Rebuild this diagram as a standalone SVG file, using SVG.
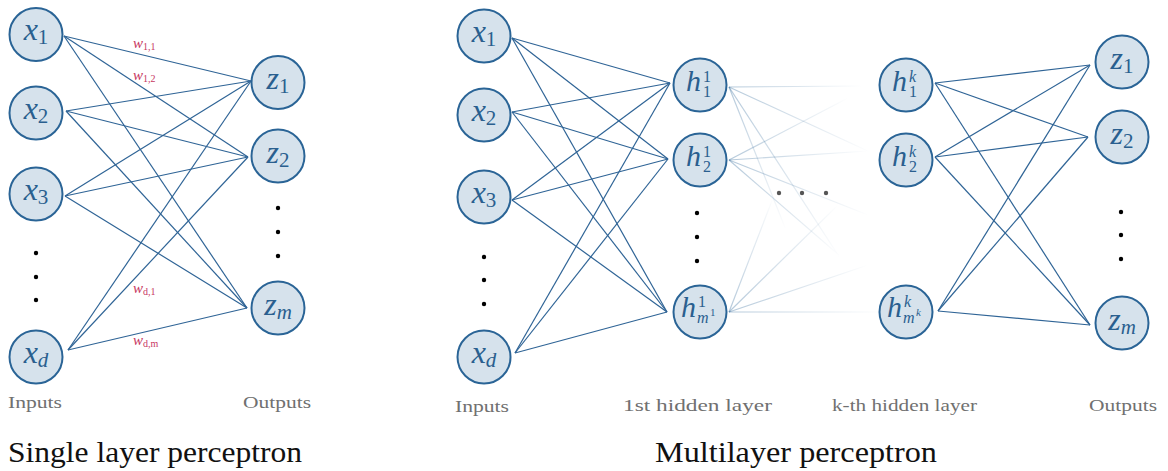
<svg xmlns="http://www.w3.org/2000/svg" width="1168" height="471" viewBox="0 0 1168 471">
<style>
text{font-family:"Liberation Serif","DejaVu Serif","Noto Serif",serif}
.node{fill:#d6e2ec;stroke:#2a6496;stroke-width:2}
.conn line{stroke:#2f6496;stroke-width:1.2}
.lab{fill:#2a5f8f;font-size:32px}
.it{font-style:italic}
.sub{font-size:21px}
.ss{font-size:16px}
.sss{font-size:11px}
.w{fill:#c7375f;font-size:15px;font-style:italic}
.wsub{font-size:10px;font-style:normal}
.cap{fill:#707070;font-size:17px}
.title{fill:#111;font-size:30px}
.dot{fill:#000}
.gdot{fill:#555}
</style>
<defs>
<linearGradient id="f1" gradientUnits="userSpaceOnUse" x1="729" y1="87" x2="862" y2="86"><stop offset="0" stop-color="#2a6496" stop-opacity="0.35"/><stop offset="1" stop-color="#2a6496" stop-opacity="0"/></linearGradient>
<linearGradient id="f2" gradientUnits="userSpaceOnUse" x1="729" y1="87" x2="870" y2="152"><stop offset="0" stop-color="#2a6496" stop-opacity="0.35"/><stop offset="1" stop-color="#2a6496" stop-opacity="0"/></linearGradient>
<linearGradient id="f3" gradientUnits="userSpaceOnUse" x1="729" y1="87" x2="786" y2="230"><stop offset="0" stop-color="#2a6496" stop-opacity="0.35"/><stop offset="1" stop-color="#2a6496" stop-opacity="0"/></linearGradient>
<linearGradient id="f4" gradientUnits="userSpaceOnUse" x1="729" y1="87" x2="840" y2="258"><stop offset="0" stop-color="#2a6496" stop-opacity="0.35"/><stop offset="1" stop-color="#2a6496" stop-opacity="0"/></linearGradient>
<linearGradient id="f5" gradientUnits="userSpaceOnUse" x1="729" y1="160" x2="848" y2="98"><stop offset="0" stop-color="#2a6496" stop-opacity="0.35"/><stop offset="1" stop-color="#2a6496" stop-opacity="0"/></linearGradient>
<linearGradient id="f6" gradientUnits="userSpaceOnUse" x1="729" y1="160" x2="868" y2="151"><stop offset="0" stop-color="#2a6496" stop-opacity="0.35"/><stop offset="1" stop-color="#2a6496" stop-opacity="0"/></linearGradient>
<linearGradient id="f7" gradientUnits="userSpaceOnUse" x1="729" y1="160" x2="840" y2="256"><stop offset="0" stop-color="#2a6496" stop-opacity="0.35"/><stop offset="1" stop-color="#2a6496" stop-opacity="0"/></linearGradient>
<linearGradient id="f8" gradientUnits="userSpaceOnUse" x1="729" y1="160" x2="868" y2="215"><stop offset="0" stop-color="#2a6496" stop-opacity="0.35"/><stop offset="1" stop-color="#2a6496" stop-opacity="0"/></linearGradient>
<linearGradient id="f9" gradientUnits="userSpaceOnUse" x1="729" y1="312" x2="882" y2="312"><stop offset="0" stop-color="#2a6496" stop-opacity="0.35"/><stop offset="1" stop-color="#2a6496" stop-opacity="0"/></linearGradient>
<linearGradient id="f10" gradientUnits="userSpaceOnUse" x1="729" y1="312" x2="868" y2="265"><stop offset="0" stop-color="#2a6496" stop-opacity="0.35"/><stop offset="1" stop-color="#2a6496" stop-opacity="0"/></linearGradient>
<linearGradient id="f11" gradientUnits="userSpaceOnUse" x1="729" y1="312" x2="838" y2="205"><stop offset="0" stop-color="#2a6496" stop-opacity="0.35"/><stop offset="1" stop-color="#2a6496" stop-opacity="0"/></linearGradient>
<linearGradient id="f12" gradientUnits="userSpaceOnUse" x1="729" y1="312" x2="773" y2="198"><stop offset="0" stop-color="#2a6496" stop-opacity="0.35"/><stop offset="1" stop-color="#2a6496" stop-opacity="0"/></linearGradient>
</defs>
<rect width="1168" height="471" fill="#fff"/>

<!-- connectors -->
<g id="connectors" class="conn">
  <!-- single layer: x -> z -->
  <line x1="64" y1="36" x2="251" y2="81"/>
  <line x1="64" y1="36" x2="248" y2="157"/>
  <line x1="64" y1="36" x2="247" y2="308"/>
  <line x1="66" y1="111" x2="251" y2="81"/>
  <line x1="66" y1="111" x2="248" y2="157"/>
  <line x1="66" y1="111" x2="247" y2="308"/>
  <line x1="65" y1="196" x2="251" y2="81"/>
  <line x1="65" y1="196" x2="248" y2="157"/>
  <line x1="65" y1="196" x2="247" y2="308"/>
  <line x1="68" y1="350" x2="251" y2="81"/>
  <line x1="68" y1="350" x2="248" y2="157"/>
  <line x1="68" y1="350" x2="247" y2="308"/>
  <!-- MLP: x -> h1 -->
  <line x1="512" y1="38" x2="670" y2="83"/>
  <line x1="512" y1="38" x2="668" y2="159"/>
  <line x1="512" y1="38" x2="667" y2="312"/>
  <line x1="512" y1="112" x2="670" y2="83"/>
  <line x1="512" y1="112" x2="668" y2="159"/>
  <line x1="512" y1="112" x2="667" y2="312"/>
  <line x1="512" y1="200" x2="670" y2="83"/>
  <line x1="512" y1="200" x2="668" y2="159"/>
  <line x1="512" y1="200" x2="667" y2="312"/>
  <line x1="515" y1="353" x2="670" y2="83"/>
  <line x1="515" y1="353" x2="668" y2="159"/>
  <line x1="515" y1="353" x2="667" y2="312"/>
  <!-- MLP: hk -> z -->
  <line x1="935" y1="83" x2="1090" y2="65"/>
  <line x1="935" y1="83" x2="1088" y2="137"/>
  <line x1="935" y1="83" x2="1090" y2="325"/>
  <line x1="935" y1="157" x2="1090" y2="65"/>
  <line x1="935" y1="157" x2="1088" y2="137"/>
  <line x1="935" y1="157" x2="1090" y2="325"/>
  <line x1="938" y1="311" x2="1090" y2="65"/>
  <line x1="938" y1="311" x2="1088" y2="137"/>
  <line x1="938" y1="311" x2="1090" y2="325"/>
  <!-- faded connectors from 1st hidden layer -->
  <line x1="729" y1="87" x2="862" y2="86" style="stroke:url(#f1)"/>
  <line x1="729" y1="87" x2="870" y2="152" style="stroke:url(#f2)"/>
  <line x1="729" y1="87" x2="786" y2="230" style="stroke:url(#f3)"/>
  <line x1="729" y1="87" x2="840" y2="258" style="stroke:url(#f4)"/>
  <line x1="729" y1="160" x2="848" y2="98" style="stroke:url(#f5)"/>
  <line x1="729" y1="160" x2="868" y2="151" style="stroke:url(#f6)"/>
  <line x1="729" y1="160" x2="840" y2="256" style="stroke:url(#f7)"/>
  <line x1="729" y1="160" x2="868" y2="215" style="stroke:url(#f8)"/>
  <line x1="729" y1="312" x2="882" y2="312" style="stroke:url(#f9)"/>
  <line x1="729" y1="312" x2="868" y2="265" style="stroke:url(#f10)"/>
  <line x1="729" y1="312" x2="838" y2="205" style="stroke:url(#f11)"/>
  <line x1="729" y1="312" x2="773" y2="198" style="stroke:url(#f12)"/>
</g>

<!-- weight labels -->
<g id="weights">
  <text class="w" x="133" y="48">w<tspan class="wsub" dy="2">1,1</tspan></text>
  <text class="w" x="133" y="80">w<tspan class="wsub" dy="2">1,2</tspan></text>
  <text class="w" x="133" y="293">w<tspan class="wsub" dy="2" font-style="italic">d</tspan><tspan class="wsub">,1</tspan></text>
  <text class="w" x="133" y="345">w<tspan class="wsub" dy="2" font-style="italic">d</tspan><tspan class="wsub">,</tspan><tspan class="wsub" font-style="italic">m</tspan></text>
</g>

<!-- Single layer perceptron nodes -->
<g id="s-x1"><circle class="node" cx="36" cy="34.5" r="26.5"/><text class="lab" x="36" y="40" text-anchor="middle"><tspan class="it">x</tspan><tspan class="sub" dy="4">1</tspan></text></g>
<g id="s-x2"><circle class="node" cx="36" cy="113" r="26.5"/><text class="lab" x="36" y="118.5" text-anchor="middle"><tspan class="it">x</tspan><tspan class="sub" dy="4">2</tspan></text></g>
<g id="s-x3"><circle class="node" cx="36" cy="194" r="26.5"/><text class="lab" x="36" y="199.5" text-anchor="middle"><tspan class="it">x</tspan><tspan class="sub" dy="4">3</tspan></text></g>
<g id="s-xd"><circle class="node" cx="36" cy="357" r="26.5"/><text class="lab" x="36" y="362.5" text-anchor="middle"><tspan class="it">x</tspan><tspan class="sub it" dy="4">d</tspan></text></g>
<g id="s-z1"><circle class="node" cx="278" cy="82.5" r="26.5"/><text class="lab" x="278" y="89" text-anchor="middle"><tspan class="it">z</tspan><tspan class="sub" dy="4">1</tspan></text></g>
<g id="s-z2"><circle class="node" cx="278" cy="156" r="26.5"/><text class="lab" x="278" y="162.5" text-anchor="middle"><tspan class="it">z</tspan><tspan class="sub" dy="4">2</tspan></text></g>
<g id="s-zm"><circle class="node" cx="278" cy="308" r="26.5"/><text class="lab" x="278" y="314.5" text-anchor="middle"><tspan class="it">z</tspan><tspan class="sub it" dy="4">m</tspan></text></g>
<g id="s-dots">
  <circle class="dot" cx="36" cy="253" r="2.2"/><circle class="dot" cx="36" cy="277" r="2.2"/><circle class="dot" cx="36" cy="300" r="2.2"/>
  <circle class="dot" cx="278" cy="208" r="2.2"/><circle class="dot" cx="278" cy="232" r="2.2"/><circle class="dot" cx="278" cy="256" r="2.2"/>
</g>

<!-- Multilayer perceptron nodes -->
<g id="m-x1"><circle class="node" cx="484" cy="36" r="26.5"/><text class="lab" x="484" y="41.5" text-anchor="middle"><tspan class="it">x</tspan><tspan class="sub" dy="4">1</tspan></text></g>
<g id="m-x2"><circle class="node" cx="484" cy="115" r="26.5"/><text class="lab" x="484" y="120.5" text-anchor="middle"><tspan class="it">x</tspan><tspan class="sub" dy="4">2</tspan></text></g>
<g id="m-x3"><circle class="node" cx="484" cy="197" r="26.5"/><text class="lab" x="484" y="202.5" text-anchor="middle"><tspan class="it">x</tspan><tspan class="sub" dy="4">3</tspan></text></g>
<g id="m-xd"><circle class="node" cx="484" cy="357" r="26.5"/><text class="lab" x="484" y="362.5" text-anchor="middle"><tspan class="it">x</tspan><tspan class="sub it" dy="4">d</tspan></text></g>

<g id="m-h11"><circle class="node" cx="700" cy="85" r="26.5"/><text class="lab"><tspan class="it" x="686" y="91" font-size="30">h</tspan><tspan class="ss" x="703" y="82">1</tspan><tspan class="ss" x="703" y="97">1</tspan></text></g>
<g id="m-h12"><circle class="node" cx="700" cy="160" r="26.5"/><text class="lab"><tspan class="it" x="686" y="166" font-size="30">h</tspan><tspan class="ss" x="703" y="157">1</tspan><tspan class="ss" x="703" y="172">2</tspan></text></g>
<g id="m-h1m"><circle class="node" cx="700" cy="312" r="26.5"/><text class="lab"><tspan class="it" x="681" y="317" font-size="30">h</tspan><tspan class="ss" x="698" y="307">1</tspan><tspan class="ss it" x="697" y="323">m</tspan><tspan class="sss" x="710" y="316">1</tspan></text></g>

<g id="m-hk1"><circle class="node" cx="906" cy="85" r="26.5"/><text class="lab"><tspan class="it" x="892" y="91" font-size="30">h</tspan><tspan class="ss it" x="909" y="82">k</tspan><tspan class="ss" x="909" y="97">1</tspan></text></g>
<g id="m-hk2"><circle class="node" cx="906" cy="160" r="26.5"/><text class="lab"><tspan class="it" x="892" y="166" font-size="30">h</tspan><tspan class="ss it" x="909" y="157">k</tspan><tspan class="ss" x="909" y="172">2</tspan></text></g>
<g id="m-hkm"><circle class="node" cx="906" cy="312" r="26.5"/><text class="lab"><tspan class="it" x="887" y="317" font-size="30">h</tspan><tspan class="ss it" x="904" y="307">k</tspan><tspan class="ss it" x="903" y="323">m</tspan><tspan class="sss it" x="916" y="316">k</tspan></text></g>

<g id="m-z1"><circle class="node" cx="1122" cy="62" r="26.5"/><text class="lab" x="1122" y="68.5" text-anchor="middle"><tspan class="it">z</tspan><tspan class="sub" dy="4">1</tspan></text></g>
<g id="m-z2"><circle class="node" cx="1122" cy="137" r="26.5"/><text class="lab" x="1122" y="143.5" text-anchor="middle"><tspan class="it">z</tspan><tspan class="sub" dy="4">2</tspan></text></g>
<g id="m-zm"><circle class="node" cx="1122" cy="323" r="26.5"/><text class="lab" x="1122" y="329.5" text-anchor="middle"><tspan class="it">z</tspan><tspan class="sub it" dy="4">m</tspan></text></g>

<g id="m-dots">
  <circle class="dot" cx="484" cy="257" r="2.2"/><circle class="dot" cx="484" cy="280" r="2.2"/><circle class="dot" cx="484" cy="304" r="2.2"/>
  <circle class="dot" cx="697" cy="213" r="2.2"/><circle class="dot" cx="697" cy="237" r="2.2"/><circle class="dot" cx="697" cy="261" r="2.2"/>
  <circle class="dot" cx="1121" cy="212" r="2.2"/><circle class="dot" cx="1121" cy="235" r="2.2"/><circle class="dot" cx="1121" cy="259" r="2.2"/>
  <circle class="gdot" cx="779" cy="193" r="2.2"/><circle class="gdot" cx="802" cy="193" r="2.2"/><circle class="gdot" cx="826" cy="193" r="2.2"/>
</g>

<!-- captions -->
<g id="captions">
  <text class="cap" x="8" y="408" textLength="54" lengthAdjust="spacingAndGlyphs">Inputs</text>
  <text class="cap" x="243" y="408" textLength="68" lengthAdjust="spacingAndGlyphs">Outputs</text>
  <text class="cap" x="455" y="412" textLength="54" lengthAdjust="spacingAndGlyphs">Inputs</text>
  <text class="cap" x="623" y="411" textLength="149" lengthAdjust="spacingAndGlyphs">1st hidden layer</text>
  <text class="cap" x="832" y="411" textLength="145" lengthAdjust="spacingAndGlyphs">k-th hidden layer</text>
  <text class="cap" x="1089" y="411" textLength="68" lengthAdjust="spacingAndGlyphs">Outputs</text>
  <text class="title" x="8" y="462" textLength="294" lengthAdjust="spacingAndGlyphs">Single layer perceptron</text>
  <text class="title" x="655" y="462" textLength="282" lengthAdjust="spacingAndGlyphs">Multilayer perceptron</text>
</g>
</svg>
